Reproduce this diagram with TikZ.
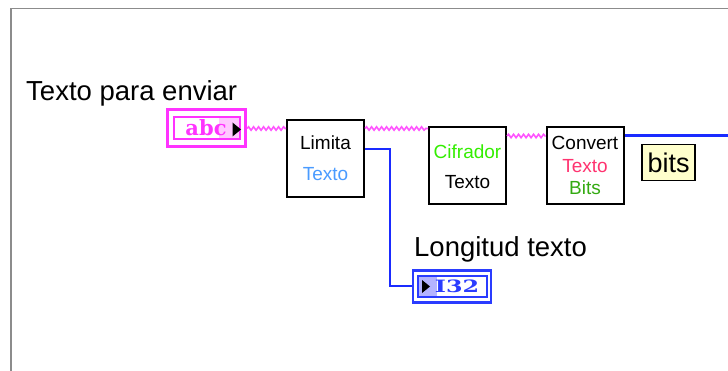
\documentclass[tikz,border=0pt]{standalone}
\usepackage{fontspec}
\usepackage{graphicx}
\setmainfont{Liberation Sans}
\newfontfamily\slabfnt{DejaVu Serif}
\usetikzlibrary{decorations.pathmorphing,calc}
\definecolor{framegray}{HTML}{8C8C8C}
\definecolor{wirepink}{HTML}{FF55FF}
\definecolor{ctlpink}{HTML}{FF33FF}
\definecolor{lightpink}{HTML}{FFC8FF}
\definecolor{wireblue}{HTML}{1A2BFF}
\definecolor{ctlblue}{HTML}{2A3CFF}
\definecolor{lightblue}{HTML}{B4B4FF}
\definecolor{txtblue}{HTML}{4A9BFF}
\definecolor{txtgreen}{HTML}{33EE00}
\definecolor{txtred}{HTML}{FF3370}
\definecolor{txtdkgreen}{HTML}{33AA11}
\definecolor{tipyellow}{HTML}{FFFFCC}
\begin{document}
\begin{tikzpicture}[x=1pt,y=-1pt,
  lbl/.style={inner sep=0pt,font=\fontsize{27.5}{30}\selectfont},
  small/.style={inner sep=0pt,font=\fontsize{19}{22}\selectfont},
  vibox/.style={draw=black,line width=2pt,fill=white,inner sep=0pt,minimum width=77pt,minimum height=77pt},
  pinkwire/.style={wirepink,line width=1.6pt,decorate,decoration={snake,amplitude=1.7pt,segment length=5pt}},
  bluewire/.style={wireblue,line width=2pt},
  thickblue/.style={wireblue,line width=3.5pt}]
\useasboundingbox (0,0) rectangle (728,371);
\fill[white] (0,0) rectangle (728,371);
\draw[framegray,line width=1.5pt] (11,371) -- (11,8.5) -- (728,8.5);

% labels
\node[lbl,anchor=base west] (lt1) at (26,101) {Texto para enviar};
\node[lbl,anchor=base west] (lt2) at (414,257) {Longitud texto};

% abc control
\node[draw=ctlpink,line width=3pt,minimum width=78pt,minimum height=37pt,inner sep=0pt] (abc) at (206.5,128.5) {};
\fill[lightpink] (219,118) rectangle (239.5,139);
\node[draw=ctlpink,line width=2pt,minimum width=66pt,minimum height=22pt,inner sep=0pt] (abcin) at (207,128.5) {};
\node[inner sep=0pt,text=ctlpink,font=\slabfnt\bfseries\fontsize{21}{21}\selectfont] (abctxt) at (206,127.5) {abc};
\fill[black] (232.5,122.5) -- (241,129.5) -- (232.5,136.5) -- cycle;

% Limita Texto
\node[vibox] (lim) at (325.5,158.5) {};
\node[small] (lim1) at (325.5,143) {Limita};
\node[small,text=txtblue] (lim2) at (325.5,174) {Texto};

% Cifrador Texto
\node[vibox] (cif) at (467.5,165.5) {};
\node[small,text=txtgreen] (cif1) at (467.5,152) {Cifrador};
\node[small] (cif2) at (467.5,182) {Texto};

% Convert Texto Bits
\node[vibox] (cvt) at (585,165.5) {};
\node[small] (cvt1) at (585,143) {Convert};
\node[small,text=txtred] (cvt2) at (585,166) {Texto};
\node[small,text=txtdkgreen] (cvt3) at (585,188) {Bits};

% bits tip
\node[draw=black,line width=1.5pt,fill=tipyellow,minimum width=53pt,minimum height=36pt,inner sep=0pt,font=\fontsize{27}{30}\selectfont] (bits) at (668.5,162.5) {bits};

% I32 indicator
\node[draw=ctlblue,line width=2.5pt,minimum width=78pt,minimum height=32pt,inner sep=0pt] (i32) at (452,286.5) {};
\fill[lightblue] (419,276.5) rectangle (437,296.5);
\node[draw=ctlblue,line width=2pt,minimum width=69pt,minimum height=21pt,inner sep=0pt] (i32in) at (452.5,286.5) {};
\node[inner sep=0pt,text=ctlblue,font=\slabfnt\bfseries\fontsize{17}{17}\selectfont] (i32txt) at (457,286.5) {\scalebox{1.4}[1]{I32}};
\fill[black] (422,280) -- (430,286.5) -- (422,293) -- cycle;

% wires
\coordinate (outend) at (728,135.5);
\draw[pinkwire] (abc.east |- 0,128.5) -- (lim.west |- 0,128.5);
\draw[pinkwire] (lim.east |- 0,128.5) -- (cif.west |- 0,128.5);
\draw[pinkwire] (cif.east |- 0,136) -- (cvt.west |- 0,136);
\draw[thickblue] (cvt.east |- outend) -- (outend);
\draw[bluewire] (lim.east |- 0,149) -- (390,149) |- (i32.west);
\end{tikzpicture}
\end{document}
